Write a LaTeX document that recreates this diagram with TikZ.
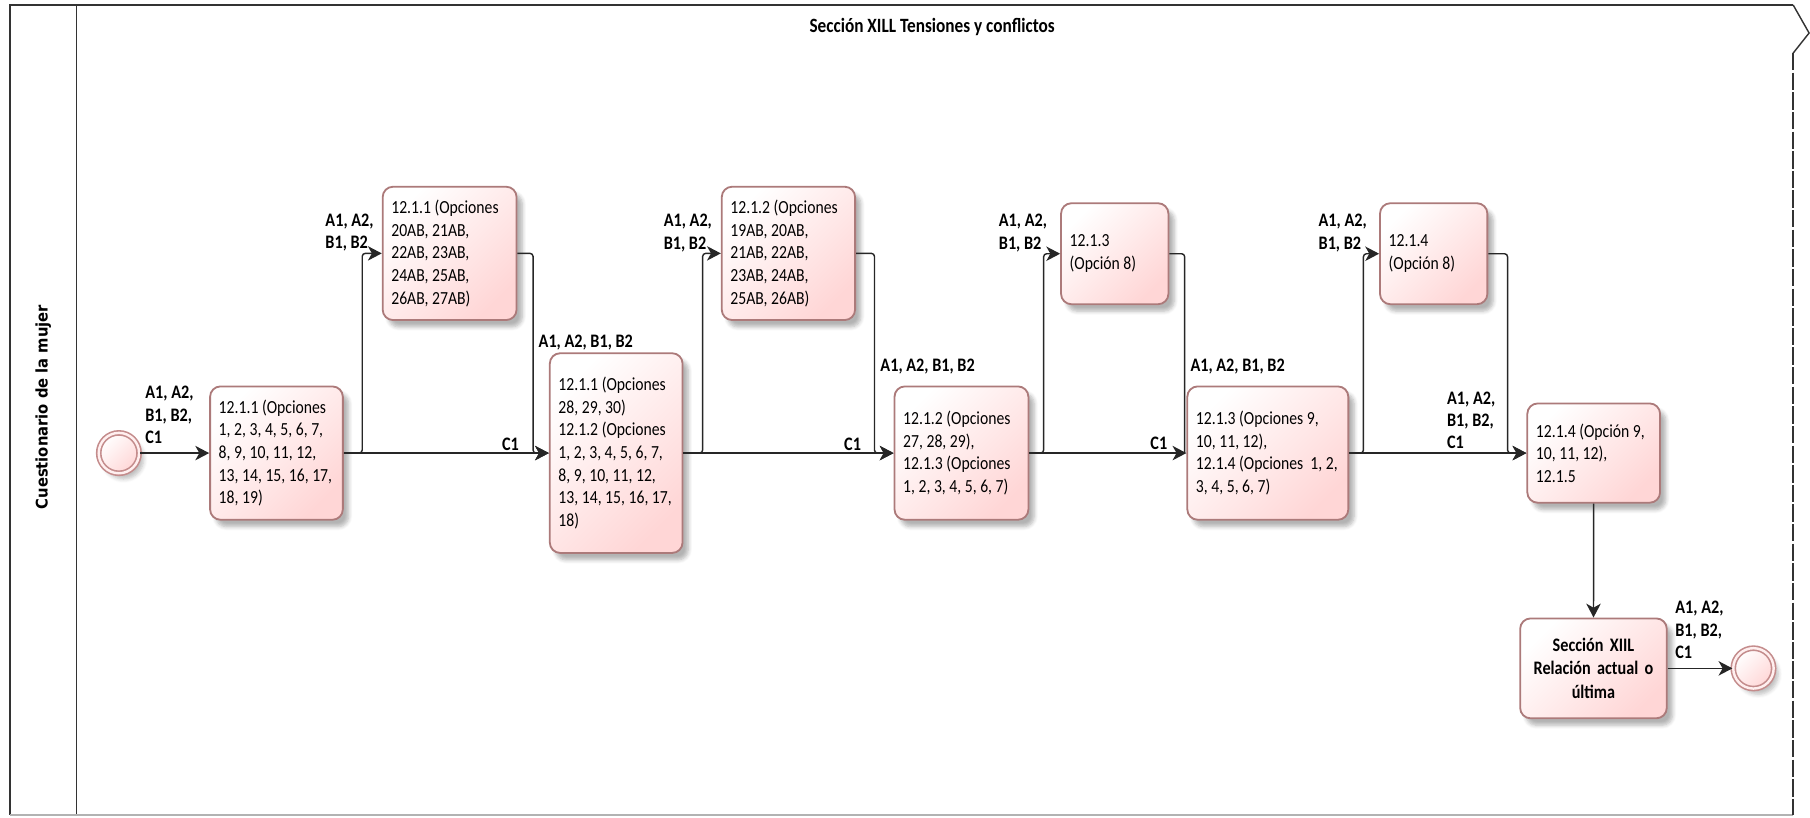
\documentclass[tikz,border=0pt]{standalone}
\usepackage{fontspec}
\setmainfont{Carlito}[FakeStretch=0.85]
\newfontfamily\lblfont{Carlito}[FakeStretch=0.85]
\newfontfamily\lanefont{DejaVu Sans}[FakeStretch=0.92]
\usetikzlibrary{positioning,arrows.meta,shadows.blur}

\definecolor{boxline}{RGB}{172,122,122}
\definecolor{boxfill}{RGB}{255,214,214}
\definecolor{evtline}{RGB}{196,140,140}

\begin{document}
\begin{tikzpicture}[
  x=0.2mm, y=-0.2mm,
  box/.style={draw=boxline, line width=0.9pt, rounded corners=1.8mm,
    top color=white, bottom color=boxfill, shading angle=45,
    blur shadow={shadow xshift=1mm, shadow yshift=-1.2mm, shadow opacity=30, shadow blur steps=6},
    align=flush left, inner xsep=1.5mm, inner ysep=0pt, font=\fontsize{9.1}{11.2}\selectfont},
  evt/.style={circle, draw=evtline, line width=0.8pt, double=white!60!boxfill, double distance=1.2pt,
    inner sep=0pt, minimum size=7mm, top color=white, bottom color=boxfill, shading angle=45,
    blur shadow={shadow xshift=0.8mm, shadow yshift=-1mm, shadow opacity=25, shadow blur steps=5}},
  flow/.style={-{Stealth[length=2.4mm,width=2.5mm,inset=0.7mm]}, line width=0.7pt, draw=black!85, rounded corners=1.5pt},
  lbl/.style={font=\lblfont\bfseries\fontsize{9.4}{11}\selectfont, align=left, inner sep=0pt, anchor=west},
  pool/.style={line width=0.7pt, draw=black!80}
]
\useasboundingbox (0,0) rectangle (1568,708);
\draw[pool] (1553.4,4.3) -- (8.7,4.3) -- (8.7,706);
\draw[pool] (66.4,4.3) -- (66.4,706);
\draw[black!30, line width=0.7pt] (8.7,706) -- (1553.4,706);
\draw[pool] (1553.4,4.3) -- (1567.2,28.6) -- (1553.4,46);
\draw[pool, dash pattern=on 3mm off 0.4mm] (1553.4,46) -- (1553.4,706);
\node[font=\lblfont\bfseries\fontsize{10}{11}\selectfont] (title) at (807.5,23) {Sección XILL Tensiones y conflictos};
\node[font=\lanefont\bfseries\fontsize{7.9}{9}\selectfont, rotate=90] (lane) at (37.5,352.6) {Cuestionario de la mujer};

\node[evt] (ini) at (103,392.5) {};
\node[box, text width=20mm, minimum height=23.1mm] (t1) at (239.5,392.5) {12.1.1 (Opciones\\1, 2, 3, 4, 5, 6, 7,\\8, 9, 10, 11, 12,\\13, 14, 15, 16, 17,\\18, 19)};
\node[box, text width=20.2mm, minimum height=23.1mm] (t2) at (389.5,219.5) {12.1.1 (Opciones\\20AB, 21AB,\\22AB, 23AB,\\24AB, 25AB,\\26AB, 27AB)};
\node[box, text width=20mm, minimum height=34.6mm] (t3) at (533.8,392.5) {12.1.1 (Opciones\\28, 29, 30)\\12.1.2 (Opciones\\1, 2, 3, 4, 5, 6, 7,\\8, 9, 10, 11, 12,\\13, 14, 15, 16, 17,\\18)};
\node[box, text width=20.1mm, minimum height=23.1mm] (t4) at (683,219.5) {12.1.2 (Opciones\\19AB, 20AB,\\21AB, 22AB,\\23AB, 24AB,\\25AB, 26AB)};
\node[box, text width=20.2mm, minimum height=23.1mm] (t5) at (832.9,392.5) {12.1.2 (Opciones\\27, 28, 29),\\12.1.3 (Opciones\\1, 2, 3, 4, 5, 6, 7)};
\node[box, text width=15.6mm, minimum height=17.5mm] (t6) at (965.7,219.8) {12.1.3\\(Opción 8)};
\node[box, text width=24.9mm, minimum height=23.1mm] (t7) at (1098.3,392.5) {12.1.3 (Opciones 9,\\10, 11, 12),\\12.1.4 (Opciones~ 1, 2,\\3, 4, 5, 6, 7)};
\node[box, text width=15.6mm, minimum height=17.5mm] (t8) at (1242,219.8) {12.1.4\\(Opción 8)};
\node[box, text width=20mm, minimum height=17.2mm] (t9) at (1380.6,392.5) {12.1.4 (Opción 9,\\10, 11, 12),\\12.1.5};
\node[box, text width=22.4mm, minimum height=17.3mm, align=center, font=\lblfont\bfseries\fontsize{9.4}{11.5}\selectfont] (sec) at (1380.4,579) {Sección XIIL\\Relación actual o\\última};
\node[evt] (fin) at (1519,579) {};

\draw[flow] (ini) -- (t1);
\draw[flow] (t1.east) -- ++(16,0) |- (t2.west);
\draw[flow] (t1) -- (t3);
\draw[flow] (t2.east) -- ++(13.5,0) |- (t3.west);
\draw[flow] (t3.east) -- ++(16.6,0) |- (t4.west);
\draw[flow] (t3) -- (t5);
\draw[flow] (t4.east) -- ++(16,0) |- (t5.west);
\draw[flow] (t5.east) -- ++(12.4,0) |- (t6.west);
\draw[flow] (t5) -- (t7);
\draw[flow, -] (t6.east) -| ([xshift=-0.3mm]t7.west);
\draw[flow] (t7.east) -- ++(12.3,0) |- (t8.west);
\draw[flow] (t7) -- (t9);
\draw[flow] (t8.east) -- ++(16.7,0) |- (t9.west);
\draw[flow] (t9) -- (sec);
\draw[flow] (sec) -- (fin);

\node[lbl] (l0) at (125.6,359.5) {A1, A2,\\B1, B2,\\C1};
\node[lbl] (l1) at (281.6,201.4) {A1, A2,\\B1, B2};
\node[lbl] (l2) at (434.6,385) {C1};
\node[lbl] (l3) at (466.3,296.9) {A1, A2, B1, B2};
\node[lbl] (l4) at (574.7,202) {A1, A2,\\B1, B2};
\node[lbl] (l5) at (731,385) {C1};
\node[lbl] (l6) at (762.4,317.7) {A1, A2, B1, B2};
\node[lbl] (l7) at (865,202) {A1, A2,\\B1, B2};
\node[lbl] (l8) at (996.3,384) {C1};
\node[lbl] (l9) at (1031,317.7) {A1, A2, B1, B2};
\node[lbl] (l10) at (1142,202) {A1, A2,\\B1, B2};
\node[lbl] (l11) at (1253.3,364) {A1, A2,\\B1, B2,\\C1};
\node[lbl] (l12) at (1451,545.8) {A1, A2,\\B1, B2,\\C1};
\end{tikzpicture}
\end{document}
